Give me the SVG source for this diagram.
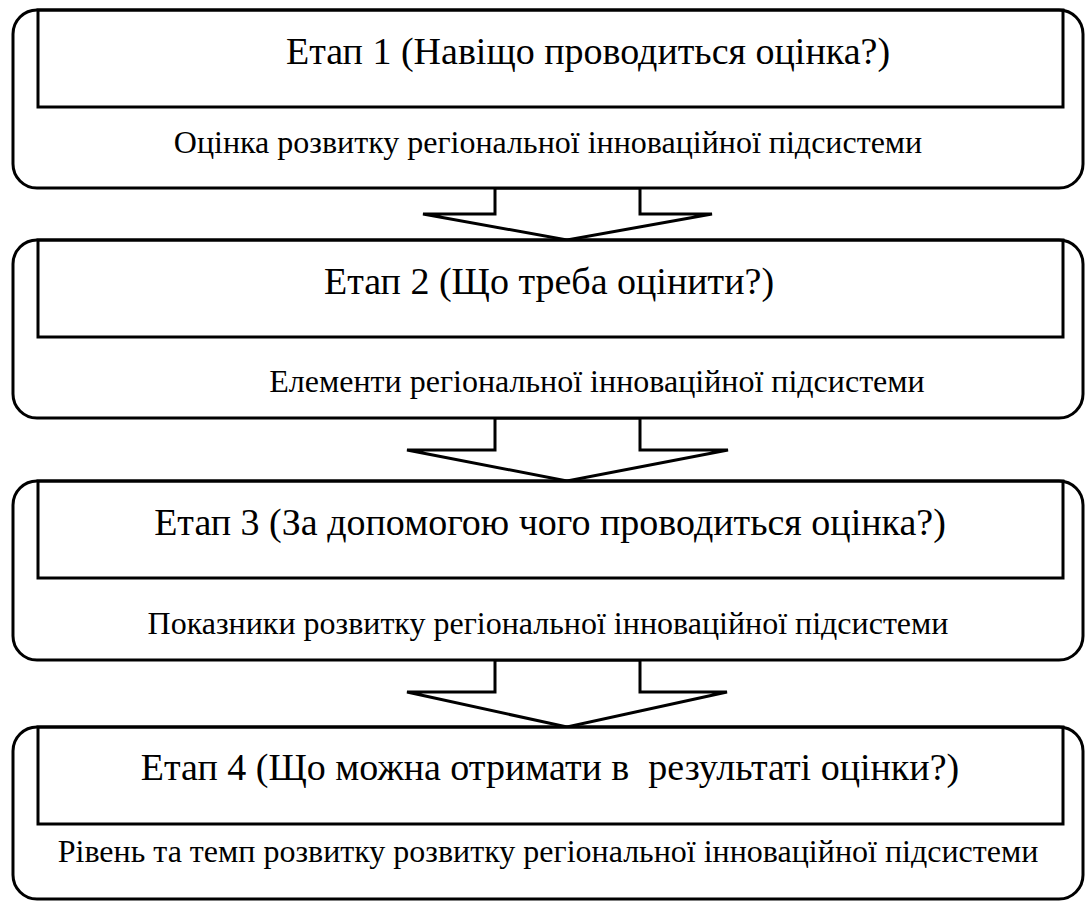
<svg xmlns="http://www.w3.org/2000/svg" width="1086" height="902" viewBox="0 0 1086 902">
<style>
.outer{fill:#fff;stroke:#000;stroke-width:3}
.inner{fill:none;stroke:#000;stroke-width:3}
.arrow{fill:#fff;stroke:#000;stroke-width:3;stroke-linejoin:miter}
.t{font-family:"Liberation Serif","Times New Roman",serif;font-size:38px;fill:#000;text-anchor:middle}
.s{font-family:"Liberation Serif","Times New Roman",serif;font-size:32px;fill:#000;text-anchor:middle}
</style>
<rect width="1086" height="902" fill="#fff"/>
<g id="connectors">
<polygon class="arrow" points="495,188 640,188 640,214 712,214 567,240 423,214 495,214"/>
<polygon class="arrow" points="495,418 640,418 640,450 728,450 567,481 407,450 495,450"/>
<polygon class="arrow" points="495,660 640,660 640,692 727,692 567,727 407,692 495,692"/>
</g>
<g id="stage1">
<rect class="outer" x="13" y="10" width="1070" height="178" rx="24"/>
<rect class="inner" x="38" y="10" width="1025" height="97"/>
<text class="t" x="588" y="64">Етап 1 (Навіщо проводиться оцінка?)</text>
<text class="s" x="548" y="153">Оцінка розвитку регіональної інноваційної підсистеми</text>
</g>
<g id="stage2">
<rect class="outer" x="13" y="240" width="1070" height="178" rx="24"/>
<rect class="inner" x="38" y="240" width="1025" height="97"/>
<text class="t" x="549" y="294">Етап 2 (Що треба оцінити?)</text>
<text class="s" x="597" y="392">Елементи регіональної інноваційної підсистеми</text>
</g>
<g id="stage3">
<rect class="outer" x="13" y="481" width="1070" height="179" rx="24"/>
<rect class="inner" x="38" y="481" width="1025" height="97"/>
<text class="t" x="550" y="535">Етап 3 (За допомогою чого проводиться оцінка?)</text>
<text class="s" x="548" y="634">Показники розвитку регіональної інноваційної підсистеми</text>
</g>
<g id="stage4">
<rect class="outer" x="13" y="727" width="1070" height="172" rx="24"/>
<rect class="inner" x="38" y="727" width="1025" height="97"/>
<text class="t" x="550" y="780" xml:space="preserve">Етап 4 (Що можна отримати в  результаті оцінки?)</text>
<text class="s" x="548" y="862">Рівень та темп розвитку розвитку регіональної інноваційної підсистеми</text>
</g>
</svg>
